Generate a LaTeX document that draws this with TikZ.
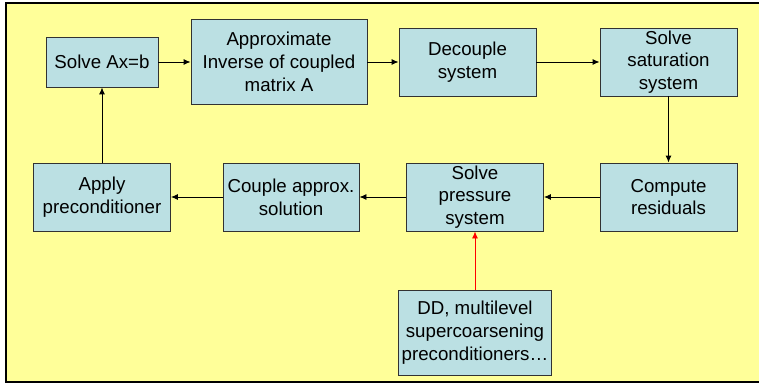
\documentclass[tikz,border=0pt]{standalone}
\usepackage{fontspec}
\setmainfont{Liberation Sans}
\usepackage{tikz}
\usetikzlibrary{arrows.meta}
\usetikzlibrary{positioning}

\definecolor{slidebg}{RGB}{255,255,153}
\definecolor{boxfill}{RGB}{187,224,227}
\definecolor{boxline}{RGB}{50,50,50}

\begin{document}
\begin{tikzpicture}[x=1pt,y=-1pt,
        every node/.style={draw=boxline,fill=boxfill,line width=0.9pt,align=center,
            inner sep=0pt,font=\fontsize{18.7}{22.7}\selectfont},
        stepbox/.style={minimum width=137pt,minimum height=68pt},
        flow/.style={draw,line width=0.9pt,-{Latex[length=7pt,width=6pt]}},
        hint/.style={draw=red,line width=0.9pt,-{Latex[length=7pt,width=6pt]}},
  ]

    % slide background
    \useasboundingbox (0,0) rectangle (759,385);
    \fill[slidebg] (6,3) rectangle (759,382);
    \draw[line width=1.2pt] (759,3) -- (6,3) -- (6,382) -- (759,382);

    % top row
    \node[minimum width=112pt,minimum height=50pt] (solve) at (102,62) {Solve Ax=b};
    \node[minimum width=176pt,minimum height=85pt] (approx) at (279,62) {Approximate\\Inverse of coupled\\matrix A};
    \node[stepbox] (decouple) at (467.5,62) {Decouple\\system};
    \node[stepbox] (satur) at (668.5,62) {Solve\\saturation\\system};

    % bottom row
    \node[stepbox] (resid) at (668.5,197) {Compute\\residuals};
    \node[stepbox] (press) at (475,197) {Solve\\pressure\\system};
    \node[stepbox,minimum width=136pt] (couple) at (291,197) {Couple approx.\\solution};
    \node[stepbox] (apply) at (102,197) {Apply\\preconditioner};

    \node[minimum width=153pt,minimum height=85pt] (dd) at (475,332.5) {DD, multilevel\\supercoarsening\\preconditioners\ldots};

    \draw[flow] (solve) -- (approx);
    \draw[flow] (approx) -- (decouple);
    \draw[flow] (decouple) -- (satur);
    \draw[flow] (satur) -- (resid);
    \draw[flow] (resid) -- (press);
    \draw[flow] (press) -- (couple);
    \draw[flow] (couple) -- (apply);
    \draw[flow] (apply) -- (solve);
    \draw[hint] (dd) -- (press);
\end{tikzpicture}
\end{document}
